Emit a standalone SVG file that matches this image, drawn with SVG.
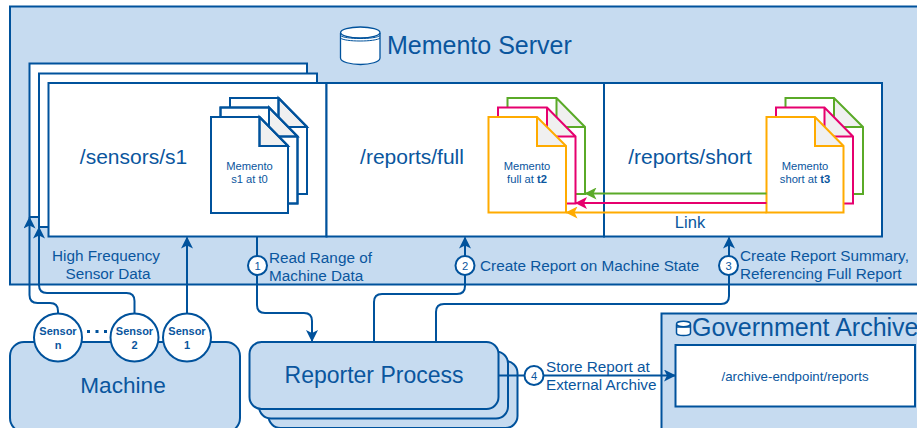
<svg xmlns="http://www.w3.org/2000/svg" width="917" height="428" viewBox="0 0 917 428">
<style>
text{font-family:"Liberation Sans",Arial,sans-serif;fill:#0a569e}
.b{fill:#c6dbf0;stroke:#00529c;stroke-width:2}
.w{fill:#fff;stroke:#00529c;stroke-width:2}
.c{fill:none;stroke:#00529c;stroke-width:2}
.m{text-anchor:middle}
.t{font-size:15.300px}
.f{fill:#f0f0f0}
.n{font-size:11px;font-weight:bold;text-anchor:middle}
.d{font-size:11.200px;text-anchor:middle}
.h{font-size:21px;text-anchor:middle}
.og{stroke:#ffab00}.pk{stroke:#e6006e}.gr{stroke:#5aaa28}
</style>
<defs>
<marker id="a" viewBox="0 0 12 12" refX="11" refY="6" markerWidth="12" markerHeight="12" markerUnits="userSpaceOnUse" orient="auto"><path d="M0 0L12 6L0 12L3 6Z" fill="#00529c"/></marker>
<marker id="ag" viewBox="0 0 12 12" refX="11" refY="6" markerWidth="12" markerHeight="12" markerUnits="userSpaceOnUse" orient="auto"><path d="M0 0L12 6L0 12L3 6Z" fill="#5aaa28"/></marker>
<marker id="ap" viewBox="0 0 12 12" refX="11" refY="6" markerWidth="12" markerHeight="12" markerUnits="userSpaceOnUse" orient="auto"><path d="M0 0L12 6L0 12L3 6Z" fill="#e6006e"/></marker>
<marker id="ao" viewBox="0 0 12 12" refX="11" refY="6" markerWidth="12" markerHeight="12" markerUnits="userSpaceOnUse" orient="auto"><path d="M0 0L12 6L0 12L3 6Z" fill="#ffab00"/></marker>
<g id="doc"><path d="M0 0H48.500L77 29V96H0Z" fill="#fff"/><path d="M48.500 0L77 29H48.500Z" class="f"/></g>
</defs>
<g id="server">
<rect class="b" x="10" y="6.500" width="920" height="278"/>
<path d="M340.500 33V58C340.500 62 351 64.500 360.500 64.500S380 62 380 58V33" fill="#fff" stroke="#00529c" stroke-width="1.300"/>
<ellipse cx="360.300" cy="32.500" rx="19.700" ry="5.500" fill="#fff" stroke="#00529c" stroke-width="1.300"/>
<path d="M340.600 35.500C344 39.500 376 39.500 380 35.500M340.600 38C344 42 376 42 380 38" fill="none" stroke="#00529c" stroke-width="1"/>
<text x="387" y="53.500" font-size="25">Memento Server</text>
</g>
<g id="sensors-s1">
<rect class="w" x="29.500" y="63.500" width="277.500" height="153.500"/>
<rect class="w" x="39" y="73.500" width="278" height="153.500"/>
<rect class="w" x="48.500" y="83" width="278" height="153.500"/>
<text x="133.500" y="163.500" class="h">/sensors/s1</text>
<g class="c"><use href="#doc" x="230" y="98"/><path d="M230 98H278.500L307 127V194H230ZM278.500 98V127H307"/>
<use href="#doc" x="220.500" y="107.500"/><path d="M220.500 107.500H269L297.500 136.500V203.500H220.500ZM269 107.500V136.500H297.500"/>
<use href="#doc" x="211" y="117"/><path d="M211 117H259.500L288 146V213H211ZM259.500 117V146H288"/></g>
<text x="249.500" y="170" class="d">Memento</text><text x="249.500" y="183" class="d">s1 at t0</text>
</g>
<g id="reports-full">
<rect class="w" x="326.500" y="83" width="277.500" height="153.500"/>
<text x="412" y="163.500" class="h">/reports/full</text>
<g class="c">
<g class="gr"><use href="#doc" x="507.500" y="98" style="stroke:none"/><path d="M507.500 98H556.500L585 127V194H507.500ZM556.500 98V127H585"/></g>
<g class="pk"><use href="#doc" x="498" y="107.500" style="stroke:none"/><path d="M498 107.500H547L575.500 136.500V203.500H498ZM547 107.500V136.500H575.500"/></g>
<g class="og"><use href="#doc" x="488.500" y="117" style="stroke:none"/><path d="M488.500 117H537L566 146V212.500H488.500ZM537 117V146H566"/></g>
</g>
<text x="527" y="170" class="d">Memento</text><text x="527" y="183" class="d">full at <tspan font-weight="bold">t2</tspan></text>
</g>
<g id="reports-short">
<rect class="w" x="604" y="83" width="278" height="153.500"/>
<text x="690" y="163.500" class="h">/reports/short</text>
<g class="c">
<g class="gr"><use href="#doc" x="785.500" y="98" style="stroke:none"/><path d="M785.500 98H834L863 127V194H785.500ZM834 98V127H863"/></g>
<g class="pk"><use href="#doc" x="776" y="107.500" style="stroke:none"/><path d="M776 107.500H824.500L853 136.500V203.500H776ZM824.500 107.500V136.500H853"/></g>
<g class="og"><use href="#doc" x="766.500" y="117" style="stroke:none"/><path d="M766.500 117H815L843.500 146V212.500H766.500ZM815 117V146H843.500"/></g>
</g>
<text x="805" y="170" class="d">Memento</text><text x="805" y="183" class="d">short at <tspan font-weight="bold">t3</tspan></text>
</g>
<g id="machine">
<rect class="b" x="10" y="342" width="230" height="90" rx="14"/>
<text x="123" y="393" font-size="22.600" class="m">Machine</text>
</g>
<g id="reporter">
<rect class="b" x="268.500" y="361" width="249" height="67" rx="12"/>
<rect class="b" x="259" y="351.500" width="249" height="67" rx="12"/>
<rect class="b" x="249.500" y="342" width="249" height="67" rx="12"/>
<text x="374" y="383.300" font-size="23" class="m">Reporter Process</text>
</g>
<g id="archive">
<rect class="b" x="661.500" y="313.500" width="270" height="120"/>
<path d="M676.500 324.500V333C676.500 335 680 335.500 683.500 335.500S690.500 335 690.500 333V324.500" fill="#fff" stroke="#00529c" stroke-width="1.500"/>
<ellipse cx="683.500" cy="324" rx="7" ry="2.700" fill="#fff" stroke="#00529c" stroke-width="1.500"/>
<path d="M676.500 327H690.500" stroke="#00529c" stroke-width="1.500"/>
<text x="692" y="335.500" font-size="25">Government Archive</text>
<rect class="w" x="675.500" y="345" width="239.500" height="61.500"/>
<text x="795" y="380.500" font-size="13.300" class="m">/archive-endpoint/reports</text>
</g>
<g id="connectors">
<path class="c" marker-end="url(#a)" d="M58 314V311Q58 303 50 303H37.500Q29.500 303 29.500 295V217.500"/>
<path class="c" marker-end="url(#a)" d="M134.500 314V301Q134.500 293 126.500 293H47Q39 293 39 285V227.500"/>
<path class="c" marker-end="url(#a)" d="M187 314V237.500"/>
<path class="c" marker-end="url(#a)" d="M257 236.500V305Q257 313 265 313H304Q312 313 312 321V341"/>
<path class="c" marker-end="url(#a)" d="M374 342V302Q374 294 382 294H457Q465 294 465 286V237.500"/>
<path class="c" marker-end="url(#a)" d="M436 342V312Q436 304 444 304H721Q729 304 729 296V237.500"/>
<path class="c" marker-end="url(#a)" d="M498.500 375.500H675"/>
<path class="c gr" marker-end="url(#ag)" d="M766.500 193.500H585.500"/>
<path class="c pk" marker-end="url(#ap)" d="M766.500 203H576"/>
<path class="c og" marker-end="url(#ao)" d="M766.500 212.500H566.500"/>
<text x="690" y="227.700" font-size="16.500" class="m">Link</text>
<text x="106" y="261" class="t m">High Frequency</text>
<text x="108" y="279" class="t m">Sensor Data</text>
<text x="269" y="262.700" class="t">Read Range of</text>
<text x="269" y="280.700" class="t">Machine Data</text>
<text x="480" y="270.700" class="t">Create Report on Machine State</text>
<text x="740" y="261" class="t">Create Report Summary,</text>
<text x="740" y="279" class="t">Referencing Full Report</text>
<text x="546" y="371.700" class="t">Store Report at</text>
<text x="546" y="390" class="t">External Archive</text>
<g id="step-1"><circle class="w" cx="257.500" cy="265.500" r="9.500"/><text x="257.500" y="269.500" class="d">1</text></g>
<g id="step-2"><circle class="w" cx="465" cy="265.500" r="9.500"/><text x="465" y="269.500" class="d">2</text></g>
<g id="step-3"><circle class="w" cx="728.500" cy="265.500" r="9.500"/><text x="728.500" y="269.500" class="d">3</text></g>
<g id="step-4"><circle class="w" cx="534" cy="375.500" r="9.500"/><text x="534" y="379.500" class="d">4</text></g>
</g>
<g id="sensor-n"><circle class="w" cx="58" cy="337.500" r="24"/><text x="58" y="335" class="n">Sensor</text><text x="58" y="348.700" class="n">n</text></g>
<g id="sensor-2"><circle class="w" cx="134.500" cy="337.500" r="24"/><text x="134.500" y="335" class="n">Sensor</text><text x="134.500" y="348.700" class="n">2</text></g>
<g id="sensor-1"><circle class="w" cx="187" cy="337.500" r="24"/><text x="187" y="335" class="n">Sensor</text><text x="187" y="348.700" class="n">1</text></g>
<path d="M87 331.500H107" fill="none" stroke="#00529c" stroke-width="3" stroke-dasharray="3 5.500"/>
</svg>
